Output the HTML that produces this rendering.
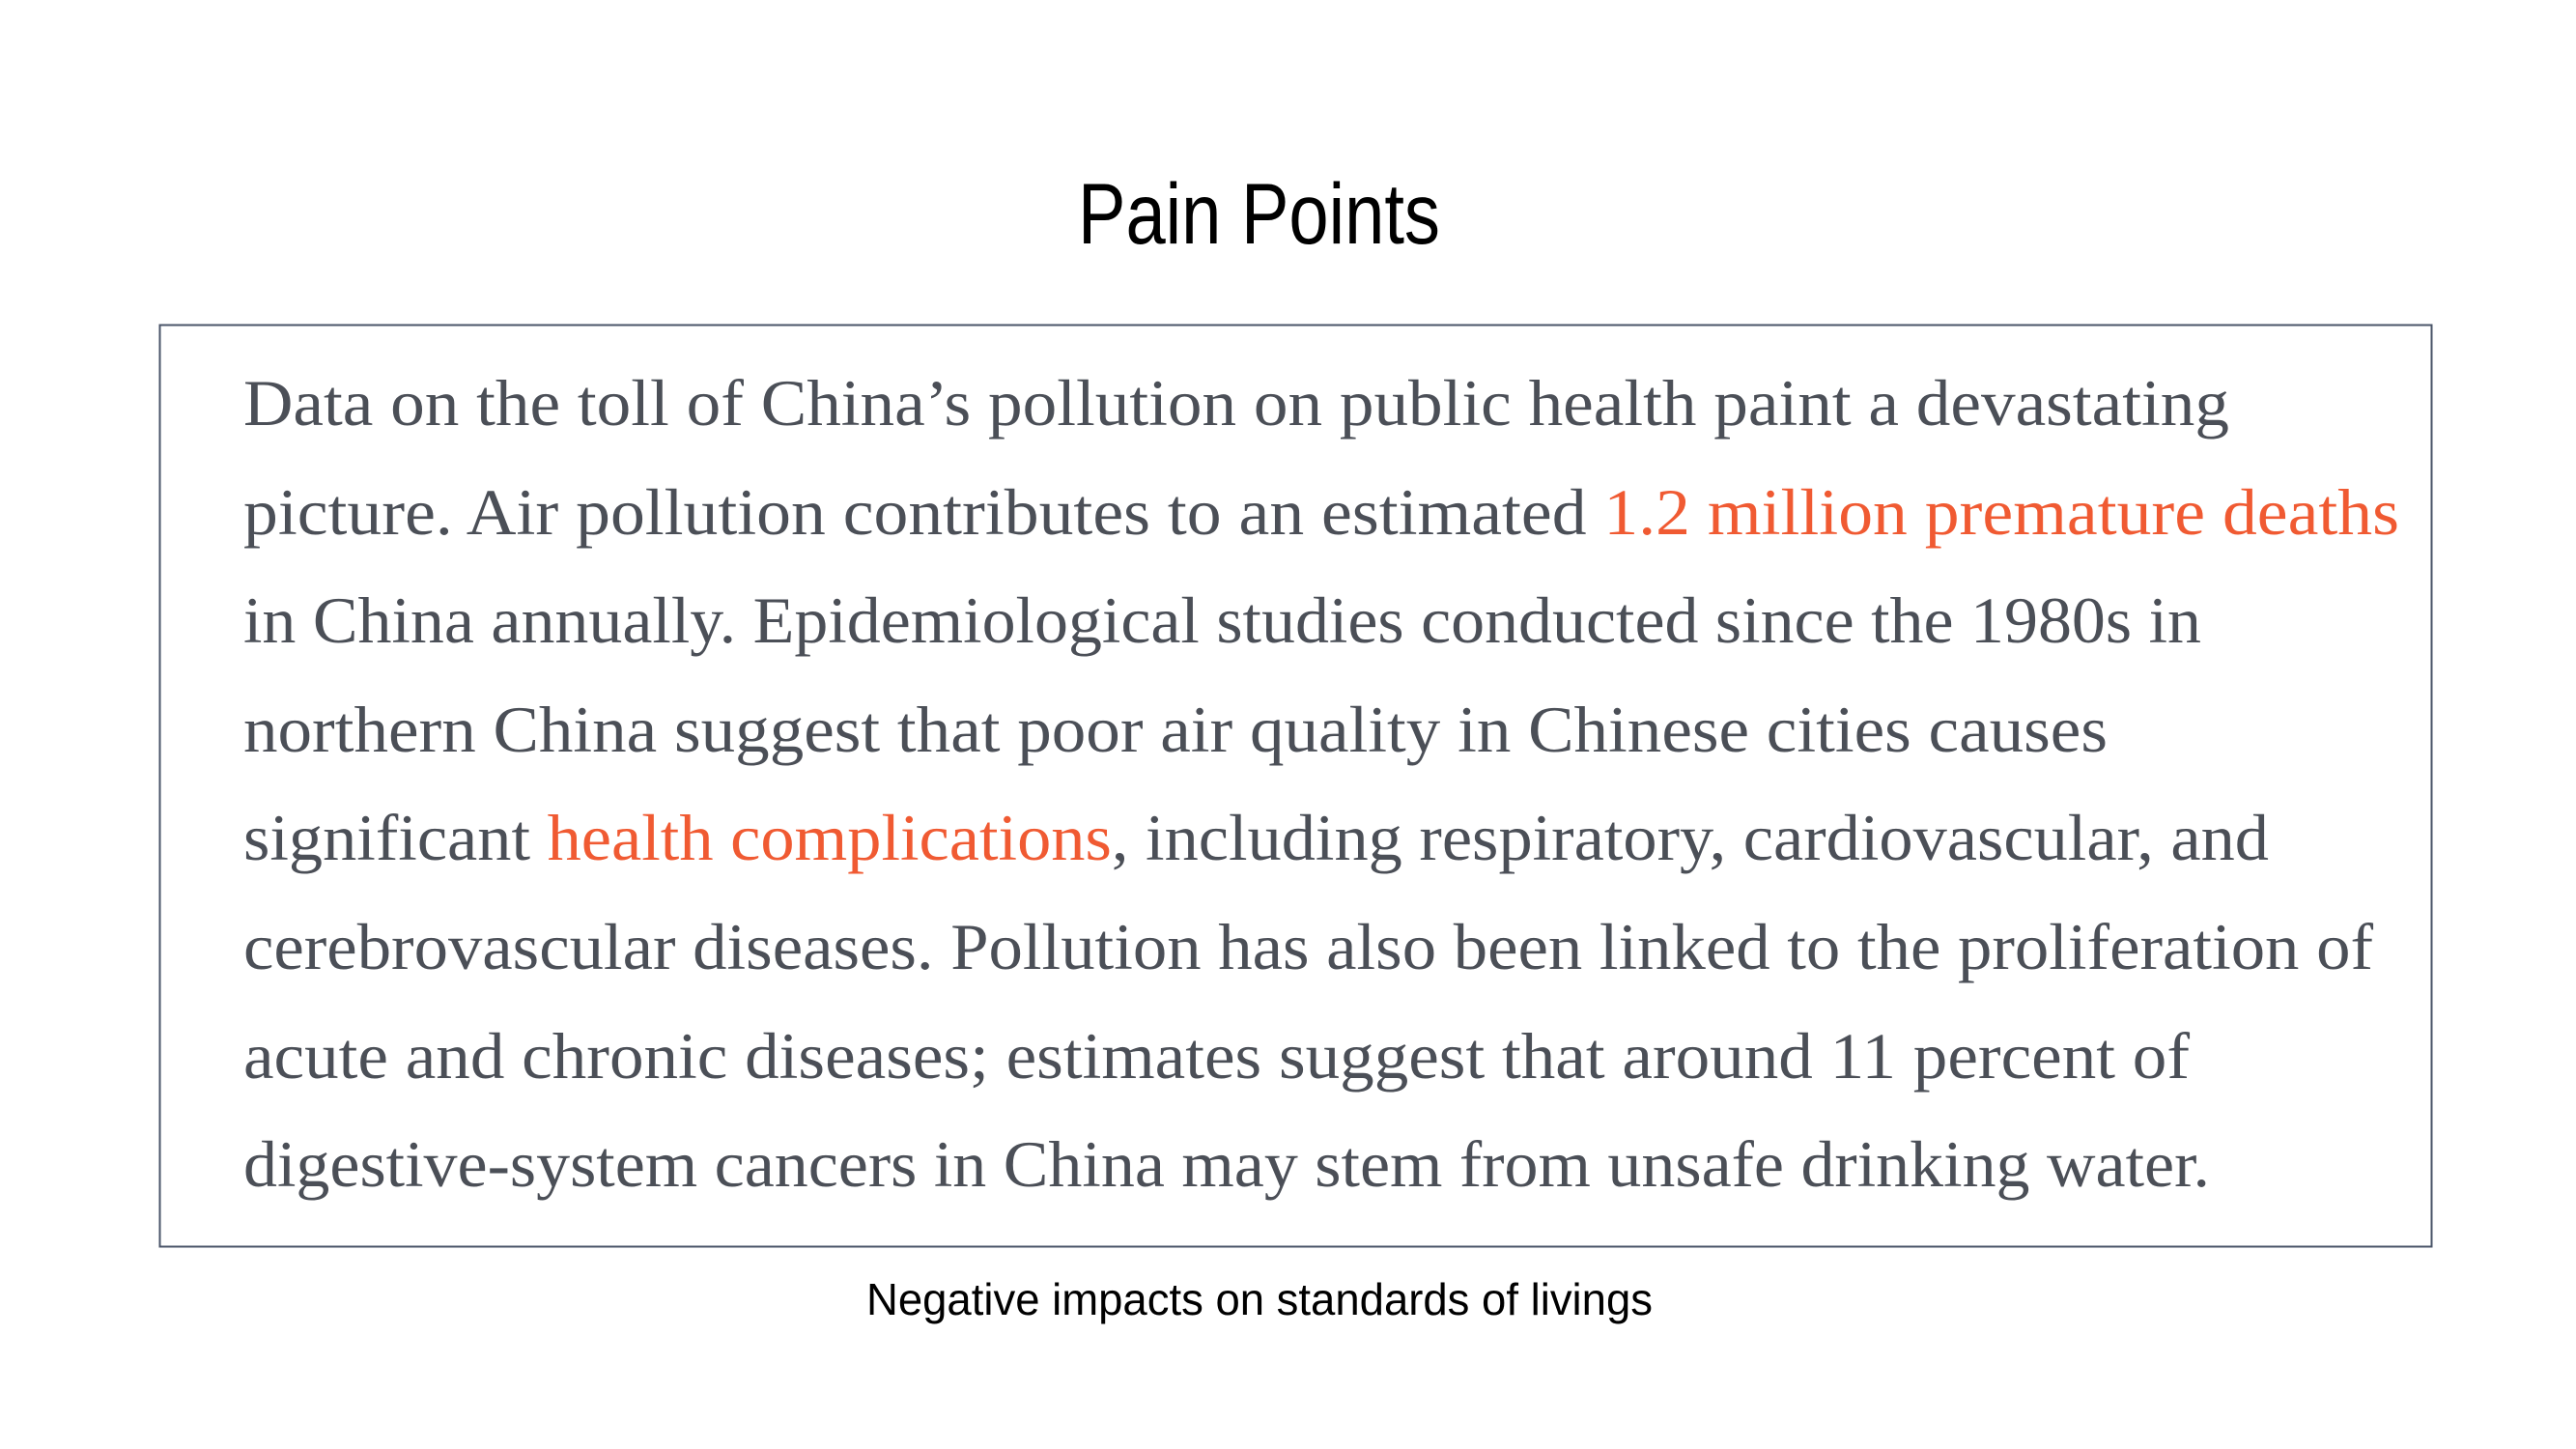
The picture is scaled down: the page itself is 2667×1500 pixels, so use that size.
<!DOCTYPE html>
<html><head><meta charset="utf-8"><style>html,body{margin:0;padding:0;background:#fff}svg{display:block}</style></head>
<body>
<svg width="2667" height="1500" viewBox="0 0 2667 1500" xmlns="http://www.w3.org/2000/svg">
<rect x="0" y="0" width="2667" height="1500" fill="#fff"/>
<text x="1116" y="252" font-family="Liberation Sans, sans-serif" font-size="89" fill="#000" textLength="375" lengthAdjust="spacingAndGlyphs">Pain Points</text>
<rect x="165.5" y="336.5" width="2352" height="954" fill="none" stroke="#4a5468" stroke-width="2"/>
<g font-family="Liberation Serif, serif" font-size="68" fill="#4b4f57">
<text x="252" y="440" textLength="2056" lengthAdjust="spacingAndGlyphs">Data on the toll of China’s pollution on public health paint a devastating</text>
<text x="252" y="553" textLength="2232" lengthAdjust="spacingAndGlyphs">picture. Air pollution contributes to an estimated <tspan fill="#f05a32">1.2 million premature deaths</tspan></text>
<text x="252" y="665" textLength="2027" lengthAdjust="spacingAndGlyphs">in China annually. Epidemiological studies conducted since the 1980s in</text>
<text x="252" y="778" textLength="1930" lengthAdjust="spacingAndGlyphs">northern China suggest that poor air quality in Chinese cities causes</text>
<text x="252" y="890" textLength="2097" lengthAdjust="spacingAndGlyphs">significant <tspan fill="#f05a32">health complications</tspan>, including respiratory, cardiovascular, and</text>
<text x="252" y="1003" textLength="2205" lengthAdjust="spacingAndGlyphs">cerebrovascular diseases. Pollution has also been linked to the proliferation of</text>
<text x="252" y="1116" textLength="2015" lengthAdjust="spacingAndGlyphs">acute and chronic diseases; estimates suggest that around 11 percent of</text>
<text x="252" y="1228" textLength="2036" lengthAdjust="spacingAndGlyphs">digestive-system cancers in China may stem from unsafe drinking water.</text>
</g>
<text x="897" y="1361" font-family="Liberation Sans, sans-serif" font-size="46" fill="#000" textLength="814" lengthAdjust="spacingAndGlyphs">Negative impacts on standards of livings</text>
</svg>
</body></html>
